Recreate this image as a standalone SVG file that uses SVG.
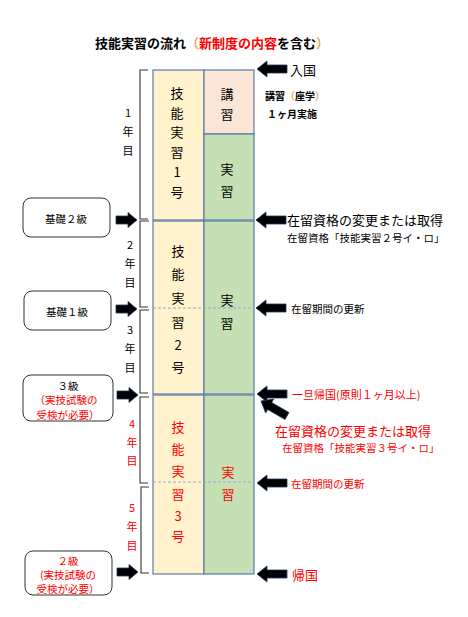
<svg xmlns="http://www.w3.org/2000/svg" width="468" height="617" viewBox="0 0 468 617">
<defs>
<style>
text{font-family:"Noto Sans CJK JP","Noto Sans CJK SC",sans-serif;dominant-baseline:central;}
.c{text-anchor:middle;font-size:13px;}
.y{text-anchor:middle;font-size:11px;}
.r{fill:#FF0000;}
.k{fill:#000;}
.blk{stroke:#5B7BAA;stroke-width:1.2;}
.kg{fill:#FFF2CC;}
.gr{fill:#C5E0B4;}
.pe{fill:#FBE5D6;}
.dash{stroke:#8FAADC;stroke-width:1;stroke-dasharray:3,2;fill:none;}
.br{fill:none;stroke:#333;stroke-width:1.1;}
.box{fill:#fff;stroke:#333;stroke-width:1;}
.arr{fill:#000;stroke:#1F3864;stroke-width:0.8;}
.bx{text-anchor:middle;font-size:10.5px;}
.rt{font-size:10.5px;}
</style>
<path id="la" d="M0,0 L10,-8 L10,-4 L30,-4 L30,4 L10,4 L10,8 Z"/>
<path id="ra" d="M0,0 L-9,-7.5 L-9,-4 L-21,-4 L-21,4 L-9,4 L-9,7.5 Z"/>
</defs>
<rect width="468" height="617" fill="#fff"/>

<g id="title">
<text x="95" y="42" font-size="13" font-weight="bold"><tspan>技能実習の流れ</tspan><tspan fill="#F4A460">（</tspan><tspan fill="#FF0000">新制度の内容</tspan><tspan>を含む</tspan><tspan fill="#F4A460">）</tspan></text>
</g>

<g id="block1">
<rect class="blk kg" x="153" y="70" width="51" height="150"/>
<rect class="blk pe" x="204" y="70" width="50" height="64"/>
<rect class="blk gr" x="204" y="134" width="50" height="86"/>
<text class="c" x="177" y="92">技</text>
<text class="c" x="177" y="112">能</text>
<text class="c" x="177" y="131">実</text>
<text class="c" x="177" y="151">習</text>
<text class="c" x="177" y="171">1</text>
<text class="c" x="177" y="191">号</text>
<text class="c" x="227" y="93">講</text>
<text class="c" x="227" y="113">習</text>
<text class="c" x="227" y="168">実</text>
<text class="c" x="227" y="190">習</text>
</g>

<g id="block2">
<rect class="blk kg" x="153" y="221" width="51" height="173"/>
<rect class="blk gr" x="204" y="221" width="50" height="173"/>
<line class="dash" x1="153" y1="308" x2="254" y2="308"/>
<text class="c" x="178" y="250">技</text>
<text class="c" x="178" y="273">能</text>
<text class="c" x="178" y="297">実</text>
<text class="c" x="178" y="321">習</text>
<text class="c" x="178" y="344">2</text>
<text class="c" x="178" y="366">号</text>
<text class="c" x="227" y="299">実</text>
<text class="c" x="227" y="322">習</text>
</g>

<g id="block3">
<rect class="blk kg" x="153" y="395" width="51" height="179"/>
<rect class="blk gr" x="204" y="395" width="50" height="179"/>
<line class="dash" x1="153" y1="482" x2="254" y2="482"/>
<text class="c r" x="178" y="426">技</text>
<text class="c r" x="178" y="448">能</text>
<text class="c r" x="178" y="470">実</text>
<text class="c r" x="178" y="493">習</text>
<text class="c r" x="178" y="515">3</text>
<text class="c r" x="178" y="535">号</text>
<text class="c r" x="228" y="471">実</text>
<text class="c r" x="228" y="493">習</text>
</g>

<g id="years">
<path class="br" d="M148,70 H140 V219 H148"/>
<path class="br" d="M149,221 H140 V307 H148"/>
<path class="br" d="M149,310 H140 V393 H148"/>
<path class="br" d="M149,397 H140 V483 H148"/>
<path class="br" d="M149,487 H141 V573 H149"/>
<text class="y" x="128" y="112">1</text>
<text class="y" x="128" y="131">年</text>
<text class="y" x="128" y="150">目</text>
<text class="y" x="130" y="244">2</text>
<text class="y" x="130" y="263">年</text>
<text class="y" x="130" y="282">目</text>
<text class="y" x="130" y="329">3</text>
<text class="y" x="130" y="348">年</text>
<text class="y" x="130" y="367">目</text>
<text class="y r" x="132" y="423">4</text>
<text class="y r" x="132" y="442">年</text>
<text class="y r" x="132" y="460">目</text>
<text class="y r" x="132" y="507">5</text>
<text class="y r" x="132" y="526">年</text>
<text class="y r" x="132" y="545">目</text>
</g>

<g id="kiso2">
<rect class="box" x="23" y="198" width="87" height="39" rx="8"/>
<text class="bx" x="66" y="218">基礎２級</text>
</g>
<g id="kiso1">
<rect class="box" x="24" y="291" width="87" height="39" rx="8"/>
<text class="bx" x="67" y="311">基礎１級</text>
</g>
<g id="kyu3">
<rect class="box" x="23" y="375" width="90" height="46" rx="8"/>
<text class="bx" x="68" y="385">３級</text>
<text class="bx r" x="66" y="399">（実技試験の</text>
<text class="bx r" x="68" y="414">受検が必要）</text>
</g>
<g id="kyu2">
<rect class="box" x="25" y="551" width="87" height="44" rx="8"/>
<text class="bx r" x="68" y="560">２級</text>
<text class="bx r" x="68" y="574">(実技試験の</text>
<text class="bx r" x="68" y="588">受検が必要）</text>
</g>

<g id="labels">
<text x="290" y="69" font-size="13">入国</text>
<text x="265" y="95" font-size="10" font-weight="bold">講習<tspan fill="#F4A460">（</tspan>座学<tspan fill="#F4A460">）</tspan></text>
<text x="267" y="113" font-size="10" font-weight="bold">１ヶ月実施</text>
<text x="287" y="219" font-size="13">在留資格の変更または取得</text>
<text x="287" y="237" class="rt">在留資格「技能実習２号イ・ロ」</text>
<text x="291" y="308" class="rt">在留期間の更新</text>
<text x="292" y="394" font-size="11" class="r">一旦帰国(原則１ヶ月以上)</text>
<text x="275" y="430" font-size="13" class="r">在留資格の変更または取得</text>
<text x="282" y="447" class="rt r">在留資格「技能実習３号イ・ロ」</text>
<text x="291" y="483" class="rt r">在留期間の更新</text>
<text x="292" y="574" font-size="13" class="r">帰国</text>
</g>

<g id="connectors">
<use href="#ra" class="arr" x="137" y="220"/>
<use href="#ra" class="arr" x="137" y="309"/>
<use href="#ra" class="arr" x="138" y="395"/>
<use href="#ra" class="arr" x="138" y="572"/>
<use href="#la" class="arr" x="257" y="69"/>
<use href="#la" class="arr" x="256" y="220"/>
<use href="#la" class="arr" x="256" y="308"/>
<use href="#la" class="arr" x="257" y="394"/>
<use href="#la" class="arr" transform="translate(261,401) rotate(30)"/>
<use href="#la" class="arr" x="257" y="483"/>
<use href="#la" class="arr" x="257" y="574"/>
</g>
</svg>
